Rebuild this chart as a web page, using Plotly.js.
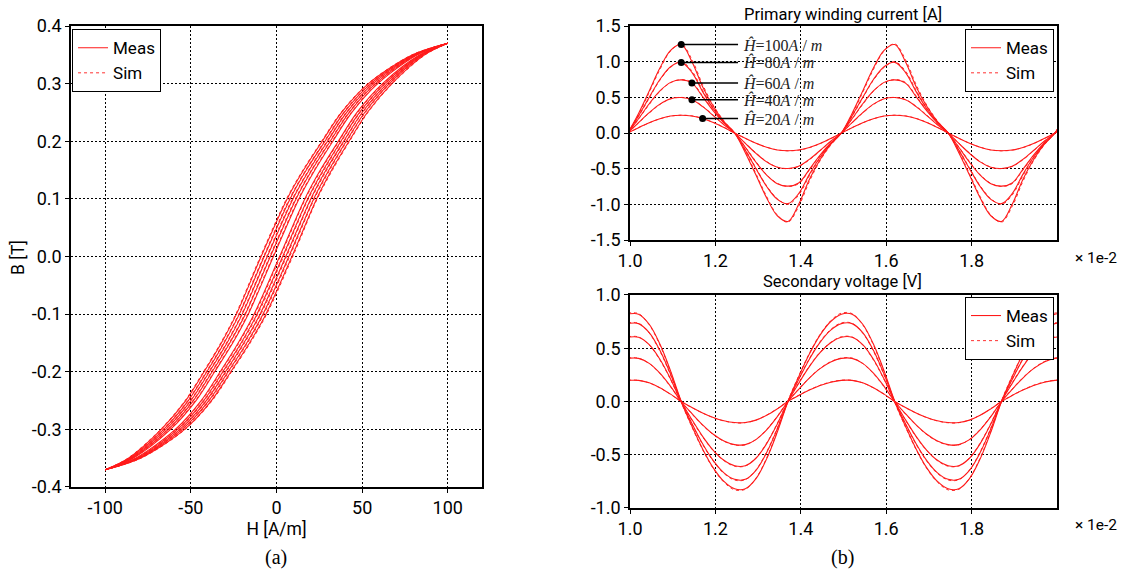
<!DOCTYPE html>
<html>
<head>
<meta charset="utf-8">
<script src="https://cdn.plot.ly/plotly-3.0.1.min.js"></script>
<style>
  html, body { margin: 0; padding: 0; background: #ffffff; }
  #chart { width: 1122px; height: 572px; }
</style>
</head>
<body>
<div id="chart"></div>
<script>
// ---------- (a) B-H loops: flux density levels shared by every branch [T] ----------
const bDown = [0.37, 0.35, 0.30, 0.25, 0.20, 0.15, 0.10, 0.00, -0.10, -0.15, -0.20, -0.25, -0.30, -0.35, -0.37];
const bUp = bDown.slice().reverse();

// field strength [A/m] on the descending branch (along bDown) and ascending branch (along bUp)
const loop1Desc = [100, 79.5, 53.7, 38.0, 26.7, 15.8, 6.2, -9.0, -23.4, -32.2, -42.3, -53.0, -67.3, -86.5, -100];
const loop1Asc  = [-100, -79.5, -53.7, -38.0, -26.7, -15.8, -6.2, 9.0, 23.4, 32.2, 42.3, 53.0, 67.3, 86.5, 100];
const loop2Desc = [100, 80.2, 55.1, 39.5, 28.3, 17.4, 7.9, -7.2, -21.7, -30.6, -40.7, -51.5, -65.9, -85.8, -100];
const loop2Asc  = [-100, -80.2, -55.1, -39.5, -28.3, -17.4, -7.9, 7.2, 21.7, 30.6, 40.7, 51.5, 65.9, 85.8, 100];
const loop3Desc = [100, 80.9, 56.4, 41.0, 29.8, 19.1, 9.6, -5.4, -20.0, -28.9, -39.2, -50.0, -64.6, -85.1, -100];
const loop3Asc  = [-100, -80.9, -56.4, -41.0, -29.8, -19.1, -9.6, 5.4, 20.0, 28.9, 39.2, 50.0, 64.6, 85.1, 100];
const loop4Desc = [100, 81.6, 57.8, 42.5, 31.4, 20.7, 11.4, -3.6, -18.2, -27.3, -37.6, -48.5, -63.2, -84.4, -100];
const loop4Asc  = [-100, -81.6, -57.8, -42.5, -31.4, -20.7, -11.4, 3.6, 18.2, 27.3, 37.6, 48.5, 63.2, 84.4, 100];
const loop5Desc = [100, 82.3, 59.1, 44.0, 32.9, 22.4, 13.1, -1.8, -16.5, -25.6, -36.1, -47.0, -61.9, -83.7, -100];
const loop5Asc  = [-100, -82.3, -59.1, -44.0, -32.9, -22.4, -13.1, 1.8, 16.5, 25.6, 36.1, 47.0, 61.9, 83.7, 100];

const loop1DescSim = [100, 79.1, 53.3, 37.6, 26.3, 15.4, 5.8, -9.4, -23.8, -32.6, -42.7, -53.4, -67.7, -86.8, -100];
const loop1AscSim  = [-100, -79.1, -53.3, -37.5, -26.2, -15.3, -5.7, 9.5, 23.8, 32.7, 42.7, 53.4, 67.7, 86.8, 100];
const loop2DescSim = [100, 79.8, 54.7, 39.1, 27.9, 17.0, 7.5, -7.6, -22.1, -31.0, -41.1, -51.9, -66.3, -86.1, -100];
const loop2AscSim  = [-100, -79.8, -54.7, -39.0, -27.8, -16.9, -7.4, 7.7, 22.1, 31.1, 41.1, 51.9, 66.3, 86.1, 100];
const loop3DescSim = [100, 80.5, 56.0, 40.6, 29.4, 18.7, 9.2, -5.8, -20.4, -29.3, -39.6, -50.4, -65.0, -85.4, -100];
const loop3AscSim  = [-100, -80.5, -56.0, -40.5, -29.3, -18.6, -9.1, 5.9, 20.4, 29.4, 39.6, 50.4, 65.0, 85.4, 100];
const loop4DescSim = [100, 81.2, 57.4, 42.1, 31.0, 20.3, 11.0, -4.0, -18.6, -27.7, -38.0, -48.9, -63.6, -84.7, -100];
const loop4AscSim  = [-100, -81.2, -57.4, -42.0, -30.9, -20.2, -10.9, 4.1, 18.6, 27.8, 38.0, 48.9, 63.6, 84.7, 100];
const loop5DescSim = [100, 81.9, 58.7, 43.6, 32.5, 22.0, 12.7, -2.2, -16.9, -26.0, -36.5, -47.4, -62.3, -84.0, -100];
const loop5AscSim  = [-100, -81.9, -58.7, -43.5, -32.4, -21.9, -12.6, 2.3, 16.9, 26.1, 36.5, 47.4, 62.3, 84.0, 100];

const hTicks = [-100, -50, 0, 50, 100];
const hTickText = ['-100', '-50', '0', '50', '100'];
const bTicks = [-0.4, -0.3, -0.2, -0.1, 0, 0.1, 0.2, 0.3, 0.4];
const bTickText = ['-0.4', '-0.3', '-0.2', '-0.1', '0.0', '0.1', '0.2', '0.3', '0.4'];

// ---------- (b) waveforms: time in units of 1e-2 s ----------
const timeAxis = [0.995, 1.020, 1.045, 1.070, 1.095, 1.120, 1.145, 1.170, 1.195, 1.220,
                  1.245, 1.270, 1.295, 1.320, 1.345, 1.370, 1.395, 1.420, 1.445, 1.470,
                  1.495, 1.520, 1.545, 1.570, 1.595, 1.620, 1.645, 1.670, 1.695, 1.720,
                  1.745, 1.770, 1.795, 1.820, 1.845, 1.870, 1.895, 1.920, 1.945, 1.970,
                  1.995, 2.020];

// primary winding current [A]
const cur100 = [0, 0.275, 0.59, 0.91, 1.16, 1.24, 1.00, 0.65, 0.375, 0.16,
                0, -0.275, -0.59, -0.91, -1.16, -1.24, -1.00, -0.65, -0.375, -0.16,
                0, 0.275, 0.59, 0.91, 1.16, 1.24, 1.00, 0.65, 0.375, 0.16,
                0, -0.275, -0.59, -0.91, -1.16, -1.24, -1.00, -0.65, -0.375, -0.16,
                0, 0.275];
const cur80 = [0, 0.24, 0.50, 0.75, 0.93, 0.99, 0.85, 0.58, 0.34, 0.15,
               0, -0.24, -0.50, -0.75, -0.93, -0.99, -0.85, -0.58, -0.34, -0.15,
               0, 0.24, 0.50, 0.75, 0.93, 0.99, 0.85, 0.58, 0.34, 0.15,
               0, -0.24, -0.50, -0.75, -0.93, -0.99, -0.85, -0.58, -0.34, -0.15,
               0, 0.24];
const cur60 = [0, 0.20, 0.41, 0.59, 0.71, 0.745, 0.70, 0.51, 0.31, 0.14,
               0, -0.20, -0.41, -0.59, -0.71, -0.745, -0.70, -0.51, -0.31, -0.14,
               0, 0.20, 0.41, 0.59, 0.71, 0.745, 0.70, 0.51, 0.31, 0.14,
               0, -0.20, -0.41, -0.59, -0.71, -0.745, -0.70, -0.51, -0.31, -0.14,
               0, 0.20];
const cur40 = [0, 0.145, 0.285, 0.405, 0.48, 0.497, 0.465, 0.37, 0.245, 0.115,
               0, -0.145, -0.285, -0.405, -0.48, -0.497, -0.465, -0.37, -0.245, -0.115,
               0, 0.145, 0.285, 0.405, 0.48, 0.497, 0.465, 0.37, 0.245, 0.115,
               0, -0.145, -0.285, -0.405, -0.48, -0.497, -0.465, -0.37, -0.245, -0.115,
               0, 0.145];
const cur20 = [0, 0.075, 0.145, 0.20, 0.238, 0.249, 0.238, 0.203, 0.148, 0.078,
               0, -0.075, -0.145, -0.20, -0.238, -0.249, -0.238, -0.203, -0.148, -0.078,
               0, 0.075, 0.145, 0.20, 0.238, 0.249, 0.238, 0.203, 0.148, 0.078,
               0, -0.075, -0.145, -0.20, -0.238, -0.249, -0.238, -0.203, -0.148, -0.078,
               0, 0.075];

const cur100Sim = [0, 0.26, 0.57, 0.89, 1.15, 1.25, 1.03, 0.68, 0.39, 0.17,
                   0, -0.26, -0.57, -0.89, -1.15, -1.25, -1.03, -0.68, -0.39, -0.17,
                   0, 0.26, 0.57, 0.89, 1.15, 1.25, 1.03, 0.68, 0.39, 0.17,
                   0, -0.26, -0.57, -0.89, -1.15, -1.25, -1.03, -0.68, -0.39, -0.17,
                   0, 0.26];
const cur80Sim = [0, 0.23, 0.49, 0.74, 0.92, 1.00, 0.87, 0.60, 0.35, 0.155,
                  0, -0.23, -0.49, -0.74, -0.92, -1.00, -0.87, -0.60, -0.35, -0.155,
                  0, 0.23, 0.49, 0.74, 0.92, 1.00, 0.87, 0.60, 0.35, 0.155,
                  0, -0.23, -0.49, -0.74, -0.92, -1.00, -0.87, -0.60, -0.35, -0.155,
                  0, 0.23];
const cur60Sim = [0, 0.195, 0.40, 0.585, 0.705, 0.75, 0.71, 0.52, 0.32, 0.145,
                  0, -0.195, -0.40, -0.585, -0.705, -0.75, -0.71, -0.52, -0.32, -0.145,
                  0, 0.195, 0.40, 0.585, 0.705, 0.75, 0.71, 0.52, 0.32, 0.145,
                  0, -0.195, -0.40, -0.585, -0.705, -0.75, -0.71, -0.52, -0.32, -0.145,
                  0, 0.195];
const cur40Sim = [0, 0.142, 0.28, 0.40, 0.478, 0.50, 0.47, 0.375, 0.25, 0.118,
                  0, -0.142, -0.28, -0.40, -0.478, -0.50, -0.47, -0.375, -0.25, -0.118,
                  0, 0.142, 0.28, 0.40, 0.478, 0.50, 0.47, 0.375, 0.25, 0.118,
                  0, -0.142, -0.28, -0.40, -0.478, -0.50, -0.47, -0.375, -0.25, -0.118,
                  0, 0.142];
const cur20Sim = [0, 0.074, 0.143, 0.199, 0.237, 0.25, 0.24, 0.205, 0.15, 0.08,
                  0, -0.074, -0.143, -0.199, -0.237, -0.25, -0.24, -0.205, -0.15, -0.08,
                  0, 0.074, 0.143, 0.199, 0.237, 0.25, 0.24, 0.205, 0.15, 0.08,
                  0, -0.074, -0.143, -0.199, -0.237, -0.25, -0.24, -0.205, -0.15, -0.08,
                  0, 0.074];

// secondary voltage [V]
const volt100 = [0.82, 0.82, 0.725, 0.539, 0.287, 0, -0.232, -0.445, -0.623, -0.751,
                 -0.82, -0.82, -0.725, -0.539, -0.287, 0, 0.232, 0.445, 0.623, 0.751,
                 0.82, 0.82, 0.725, 0.539, 0.287, 0, -0.232, -0.445, -0.623, -0.751,
                 -0.82, -0.82, -0.725, -0.539, -0.287, 0, 0.232, 0.445, 0.623, 0.751,
                 0.82, 0.82];
const volt80 = [0.731, 0.731, 0.646, 0.480, 0.256, 0, -0.206, -0.397, -0.555, -0.670,
                -0.731, -0.731, -0.646, -0.480, -0.256, 0, 0.206, 0.397, 0.555, 0.670,
                0.731, 0.731, 0.646, 0.480, 0.256, 0, -0.206, -0.397, -0.555, -0.670,
                -0.731, -0.731, -0.646, -0.480, -0.256, 0, 0.206, 0.397, 0.555, 0.670,
                0.731, 0.731];
const volt60 = [0.603, 0.603, 0.533, 0.396, 0.211, 0, -0.170, -0.327, -0.458, -0.552,
                -0.603, -0.603, -0.533, -0.396, -0.211, 0, 0.170, 0.327, 0.458, 0.552,
                0.603, 0.603, 0.533, 0.396, 0.211, 0, -0.170, -0.327, -0.458, -0.552,
                -0.603, -0.603, -0.533, -0.396, -0.211, 0, 0.170, 0.327, 0.458, 0.552,
                0.603, 0.603];
const volt40 = [0.405, 0.405, 0.358, 0.266, 0.142, 0, -0.114, -0.220, -0.308, -0.371,
                -0.405, -0.405, -0.358, -0.266, -0.142, 0, 0.114, 0.220, 0.308, 0.371,
                0.405, 0.405, 0.358, 0.266, 0.142, 0, -0.114, -0.220, -0.308, -0.371,
                -0.405, -0.405, -0.358, -0.266, -0.142, 0, 0.114, 0.220, 0.308, 0.371,
                0.405, 0.405];
const volt20 = [0.198, 0.198, 0.175, 0.130, 0.069, 0, -0.056, -0.107, -0.150, -0.181,
                -0.198, -0.198, -0.175, -0.130, -0.069, 0, 0.056, 0.107, 0.150, 0.181,
                0.198, 0.198, 0.175, 0.130, 0.069, 0, -0.056, -0.107, -0.150, -0.181,
                -0.198, -0.198, -0.175, -0.130, -0.069, 0, 0.056, 0.107, 0.150, 0.181,
                0.198, 0.198];

const volt100Sim = [0.83, 0.825, 0.72, 0.53, 0.278, -0.008, -0.24, -0.452, -0.63, -0.758,
                    -0.83, -0.825, -0.72, -0.53, -0.278, 0.008, 0.24, 0.452, 0.63, 0.758,
                    0.83, 0.825, 0.72, 0.53, 0.278, -0.008, -0.24, -0.452, -0.63, -0.758,
                    -0.83, -0.825, -0.72, -0.53, -0.278, 0.008, 0.24, 0.452, 0.63, 0.758,
                    0.83, 0.825];
const volt80Sim = [0.738, 0.735, 0.642, 0.472, 0.248, -0.007, -0.212, -0.403, -0.561, -0.676,
                   -0.738, -0.735, -0.642, -0.472, -0.248, 0.007, 0.212, 0.403, 0.561, 0.676,
                   0.738, 0.735, 0.642, 0.472, 0.248, -0.007, -0.212, -0.403, -0.561, -0.676,
                   -0.738, -0.735, -0.642, -0.472, -0.248, 0.007, 0.212, 0.403, 0.561, 0.676,
                   0.738, 0.735];
const volt60Sim = [0.608, 0.606, 0.530, 0.390, 0.205, -0.005, -0.175, -0.332, -0.462, -0.556,
                   -0.608, -0.606, -0.530, -0.390, -0.205, 0.005, 0.175, 0.332, 0.462, 0.556,
                   0.608, 0.606, 0.530, 0.390, 0.205, -0.005, -0.175, -0.332, -0.462, -0.556,
                   -0.608, -0.606, -0.530, -0.390, -0.205, 0.005, 0.175, 0.332, 0.462, 0.556,
                   0.608, 0.606];
const volt40Sim = [0.408, 0.407, 0.356, 0.262, 0.138, -0.003, -0.117, -0.223, -0.311, -0.374,
                   -0.408, -0.407, -0.356, -0.262, -0.138, 0.003, 0.117, 0.223, 0.311, 0.374,
                   0.408, 0.407, 0.356, 0.262, 0.138, -0.003, -0.117, -0.223, -0.311, -0.374,
                   -0.408, -0.407, -0.356, -0.262, -0.138, 0.003, 0.117, 0.223, 0.311, 0.374,
                   0.408, 0.407];
const volt20Sim = [0.200, 0.199, 0.174, 0.128, 0.067, -0.002, -0.058, -0.109, -0.152, -0.183,
                   -0.200, -0.199, -0.174, -0.128, -0.067, 0.002, 0.058, 0.109, 0.152, 0.183,
                   0.200, 0.199, 0.174, 0.128, 0.067, -0.002, -0.058, -0.109, -0.152, -0.183,
                   -0.200, -0.199, -0.174, -0.128, -0.067, 0.002, 0.058, 0.109, 0.152, 0.183,
                   0.200, 0.199];

const tTicks = [1.0, 1.2, 1.4, 1.6, 1.8];
const tTickText = ['1.0', '1.2', '1.4', '1.6', '1.8'];
const iTicks = [-1.5, -1.0, -0.5, 0, 0.5, 1.0, 1.5];
const iTickText = ['-1.5', '-1.0', '-0.5', '0.0', '0.5', '1.0', '1.5'];
const vTicks = [-1.0, -0.5, 0, 0.5, 1.0];
const vTickText = ['-1.0', '-0.5', '0.0', '0.5', '1.0'];

// peak field labels and the current sample each pointer starts from
const hatValues = [100, 80, 60, 40, 20];
const hatCurves = [cur100, cur80, cur60, cur40, cur20];
const hatSample = [5, 5, 6, 6, 7];

// ---------- styling ----------
const RED = '#ff1a1a';
const FONT = 'Roboto, "Liberation Sans", Arial, sans-serif';
const measLine = { color: RED, width: 1.1 };
const simLine = { color: RED, width: 0.9, dash: 'dot' };

const traces = [];

function addLoop(desc, asc, sim, showInLegend) {
  traces.push({
    type: 'scatter', mode: 'lines', xaxis: 'x', yaxis: 'y',
    x: desc.concat([null], asc), y: bDown.concat([null], bUp),
    line: Object.assign({ shape: 'spline', smoothing: 0.9 }, sim ? simLine : measLine),
    connectgaps: false, name: sim ? 'Sim' : 'Meas',
    legend: 'legend', showlegend: showInLegend, hoverinfo: 'skip'
  });
}
[[loop1Desc, loop1Asc], [loop2Desc, loop2Asc], [loop3Desc, loop3Asc], [loop4Desc, loop4Asc], [loop5Desc, loop5Asc]]
  .forEach((p, i) => addLoop(p[0], p[1], false, i === 0));
[[loop1DescSim, loop1AscSim], [loop2DescSim, loop2AscSim], [loop3DescSim, loop3AscSim], [loop4DescSim, loop4AscSim], [loop5DescSim, loop5AscSim]]
  .forEach((p, i) => addLoop(p[0], p[1], true, i === 0));

function addWave(values, sim, xa, ya, legendId, showInLegend) {
  traces.push({
    type: 'scatter', mode: 'lines', xaxis: xa, yaxis: ya,
    x: timeAxis, y: values,
    line: Object.assign({ shape: 'spline', smoothing: 1 }, sim ? simLine : measLine),
    name: sim ? 'Sim' : 'Meas', legend: legendId, showlegend: showInLegend, hoverinfo: 'skip'
  });
}
[cur100, cur80, cur60, cur40, cur20].forEach((v, i) => addWave(v, false, 'x2', 'y2', 'legend2', i === 0));
[cur100Sim, cur80Sim, cur60Sim, cur40Sim, cur20Sim].forEach((v, i) => addWave(v, true, 'x2', 'y2', 'legend2', i === 0));
[volt100, volt80, volt60, volt40, volt20].forEach((v, i) => addWave(v, false, 'x3', 'y3', 'legend3', i === 0));
[volt100Sim, volt80Sim, volt60Sim, volt40Sim, volt20Sim].forEach((v, i) => addWave(v, true, 'x3', 'y3', 'legend3', i === 0));

// pointer lines and dots for the peak-field labels
const pointerEnd = 1.253;
const annotations = [];
hatValues.forEach((h, i) => {
  const px = timeAxis[hatSample[i]];
  const py = hatCurves[i][hatSample[i]];
  traces.push({
    type: 'scatter', mode: 'lines', xaxis: 'x2', yaxis: 'y2',
    x: [px, pointerEnd], y: [py, py],
    line: { color: '#000', width: 1.5 }, showlegend: false, hoverinfo: 'skip'
  });
  traces.push({
    type: 'scatter', mode: 'markers', xaxis: 'x2', yaxis: 'y2',
    x: [px], y: [py], marker: { color: '#000', size: 7 }, showlegend: false, hoverinfo: 'skip'
  });
  annotations.push({
    xref: 'x2', yref: 'y2', x: pointerEnd + 0.007, y: py, xanchor: 'left', yanchor: 'middle',
    text: '<i>Ĥ</i>=' + h + '<i>A</i> / <i>m</i>', showarrow: false,
    font: { family: '"Liberation Serif", "DejaVu Serif", serif', size: 16, color: '#222' }
  });
});

// titles, scale markers and captions
annotations.push(
  { xref: 'paper', yref: 'paper', x: 0.7513, y: 0.975, xanchor: 'center', yanchor: 'middle',
    text: 'Primary winding current [A]', showarrow: false, font: { family: FONT, size: 16.5, color: '#000' } },
  { xref: 'paper', yref: 'paper', x: 0.7513, y: 0.507, xanchor: 'center', yanchor: 'middle',
    text: 'Secondary voltage [V]', showarrow: false, font: { family: FONT, size: 16.5, color: '#000' } },
  { xref: 'paper', yref: 'paper', x: 0.016, y: 0.5507, xanchor: 'center', yanchor: 'middle', textangle: -90,
    text: 'B [T]', showarrow: false, font: { family: FONT, size: 17.5, color: '#000' } },
  { xref: 'paper', yref: 'paper', x: 0.9768, y: 0.549, xanchor: 'center', yanchor: 'middle',
    text: '× 1e-2', showarrow: false, font: { family: FONT, size: 15.5, color: '#000' } },
  { xref: 'paper', yref: 'paper', x: 0.9768, y: 0.082, xanchor: 'center', yanchor: 'middle',
    text: '× 1e-2', showarrow: false, font: { family: FONT, size: 15.5, color: '#000' } },
  { xref: 'paper', yref: 'paper', x: 0.246, y: 0.026, xanchor: 'center', yanchor: 'middle',
    text: '(a)', showarrow: false, font: { family: '"Liberation Serif", serif', size: 20, color: '#000' } },
  { xref: 'paper', yref: 'paper', x: 0.7513, y: 0.026, xanchor: 'center', yanchor: 'middle',
    text: '(b)', showarrow: false, font: { family: '"Liberation Serif", serif', size: 20, color: '#000' } }
);

function axisBase() {
  return {
    showline: true, mirror: true, linecolor: '#000', linewidth: 1.8,
    showgrid: true, gridcolor: '#000', gridwidth: 1, griddash: '2px,2px',
    zeroline: false, ticks: 'outside', ticklen: 4, tickcolor: '#000', tickwidth: 1,
    tickmode: 'array', tickfont: { family: FONT, size: 18, color: '#000' }, fixedrange: true
  };
}

const legendBase = {
  bgcolor: '#ffffff', bordercolor: '#000', borderwidth: 1,
  font: { family: FONT, size: 17, color: '#000' }, tracegroupgap: 0, itemwidth: 30,
  yanchor: 'top'
};

const layout = {
  width: 1122, height: 572,
  margin: { l: 0, r: 0, t: 0, b: 0 },
  paper_bgcolor: '#ffffff', plot_bgcolor: '#ffffff',
  font: { family: FONT, size: 17, color: '#000' },
  xaxis: Object.assign(axisBase(), {
    domain: [0.0633, 0.4296], range: [-120, 120], anchor: 'y',
    tickvals: hTicks, ticktext: hTickText,
    title: { text: 'H [A/m]', font: { family: FONT, size: 17.5 }, standoff: 5 }
  }),
  yaxis: Object.assign(axisBase(), {
    domain: [0.1486, 0.9545], range: [-0.4, 0.4], anchor: 'x',
    tickvals: bTicks, ticktext: bTickText
  }),
  xaxis2: Object.assign(axisBase(), {
    domain: [0.5615, 0.9421], range: [1.0, 2.0], anchor: 'y2',
    tickvals: tTicks, ticktext: tTickText
  }),
  yaxis2: Object.assign(axisBase(), {
    domain: [0.5804, 0.9545], range: [-1.5, 1.5], anchor: 'x2',
    tickvals: iTicks, ticktext: iTickText
  }),
  xaxis3: Object.assign(axisBase(), {
    domain: [0.5615, 0.9421], range: [1.0, 2.0], anchor: 'y3',
    tickvals: tTicks, ticktext: tTickText
  }),
  yaxis3: Object.assign(axisBase(), {
    domain: [0.1119, 0.4843], range: [-1.0, 1.0], anchor: 'x3',
    tickvals: vTicks, ticktext: vTickText
  }),
  legend: Object.assign({}, legendBase, { x: 0.0642, y: 0.949, xanchor: 'left' }),
  legend2: Object.assign({}, legendBase, { x: 0.9394, y: 0.949, xanchor: 'right' }),
  legend3: Object.assign({}, legendBase, { x: 0.9394, y: 0.4808, xanchor: 'right' }),
  annotations: annotations,
  hovermode: false
};

Plotly.newPlot('chart', traces, layout, { staticPlot: true, displayModeBar: false });
</script>
</body>
</html>
